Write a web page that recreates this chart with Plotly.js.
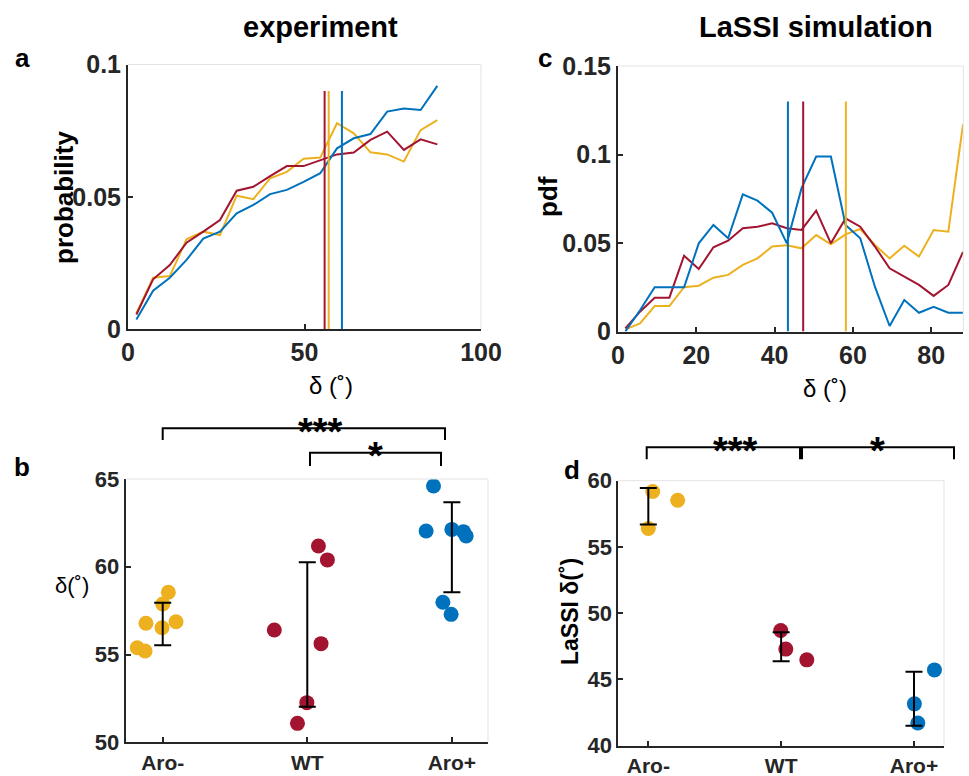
<!DOCTYPE html>
<html><head><meta charset="utf-8">
<script src="https://cdn.plot.ly/plotly-3.0.1.min.js"></script>
<style>html,body{margin:0;padding:0;background:#fff}#chart{width:969px;height:776px}</style>
</head><body><div id="chart"></div>
<script>
// ---------- DATA ----------
// panel a: experiment, probability vs delta (bin centres)
var binsA = [2.37,7.11,11.84,16.58,21.32,26.05,30.79,35.53,40.26,45.00,49.74,54.47,59.21,63.95,68.68,73.42,78.16,82.89,87.63];
var aroMinusA = [0.0059,0.0194,0.0200,0.0339,0.0368,0.0355,0.0504,0.0491,0.0570,0.0594,0.0644,0.0648,0.0778,0.0740,0.0668,0.0660,0.0633,0.0752,0.0790];
var wtA       = [0.0055,0.0188,0.0242,0.0326,0.0368,0.0412,0.0523,0.0538,0.0578,0.0616,0.0616,0.0639,0.0660,0.0667,0.0715,0.0746,0.0677,0.0717,0.0698];
var aroPlusA  = [0.0036,0.0145,0.0194,0.0261,0.0342,0.0368,0.0437,0.0469,0.0510,0.0526,0.0556,0.0589,0.0683,0.0721,0.0737,0.0822,0.0834,0.0828,0.0919];
var meanA = [56.85, 55.7, 60.6];          // Aro-, WT, Aro+
var meanLineTopA = 0.09;

// panel c: LaSSI simulation, pdf vs delta
var binsC = [1.875,5.625,9.375,13.125,16.875,20.625,24.375,28.125,31.875,35.625,39.375,43.125,46.875,50.625,54.375,58.125,61.875,65.625,69.375,73.125,76.875,80.625,84.375,88.125];
var aroMinusC = [0.0012,0.0046,0.0144,0.0144,0.0250,0.0259,0.0304,0.0320,0.0376,0.0413,0.0480,0.0487,0.0470,0.0545,0.0492,0.0549,0.0579,0.0489,0.0413,0.0485,0.0423,0.0573,0.0564,0.1170];
var wtC       = [0.0018,0.0112,0.0191,0.0191,0.0428,0.0353,0.0476,0.0513,0.0583,0.0592,0.0611,0.0583,0.0574,0.0683,0.0498,0.0639,0.0592,0.0480,0.0357,0.0310,0.0263,0.0201,0.0263,0.0450];
var aroPlusC  = [0.0000,0.0120,0.0250,0.0250,0.0250,0.0498,0.0602,0.0527,0.0775,0.0739,0.0671,0.0498,0.0810,0.0988,0.0988,0.0602,0.0527,0.0253,0.0031,0.0178,0.0106,0.0140,0.0106,0.0106];
var meanC = [58.2, 47.3, 43.4];           // Aro-, WT, Aro+
var meanLineTopC = 0.13;

// panel b: experiment, delta per sample
var groupLabels = ['Aro-','WT','Aro+'];
var bAroMinusX = [1.039,1.000,0.884,0.995,1.092,0.824,0.878];
var bAroMinusY = [58.55,57.88,56.78,56.53,56.87,55.39,55.20];
var bWtX = [2.077,2.139,1.772,2.095,1.997,1.932];
var bWtY = [61.18,60.39,56.40,55.62,52.26,51.08];
var bAroPlusX = [2.873,2.822,3.000,3.080,3.099,2.938,2.995];
var bAroPlusY = [64.60,62.04,62.13,62.00,61.75,57.98,57.29];
var bErrX = [1.0, 2.0, 3.0];
var bErrLow  = [55.53, 52.03, 58.55];
var bErrHigh = [57.95, 60.26, 63.68];

// panel d: LaSSI delta per run
var dAroMinusX = [1.033,1.221,1.000];
var dAroMinusY = [59.18,58.52,56.39];
var dWtX = [1.997,2.035,2.193];
var dWtY = [48.69,47.29,46.48];
var dAroPlusX = [3.154,3.003,3.029];
var dAroPlusY = [45.72,43.16,41.71];
var dErrX = [1.0, 2.0, 3.0];
var dErrLow  = [56.69, 46.38, 41.50];
var dErrHigh = [59.44, 48.57, 45.59];

// ---------- STYLE ----------
var C = {y:'#EDB120', r:'#A2142F', b:'#0072BD'};
var cols = [C.y, C.r, C.b];
var FONT = 'Liberation Sans, Arial, Helvetica, sans-serif';
var AX = '#262626';
var W = 969, H = 776;
function px(x){return x/W;}
function py(y){return 1 - y/H;}

var traces = [];
function line(x,y,c,xa,ya){traces.push({x:x,y:y,type:'scatter',mode:'lines',line:{color:c,width:2},xaxis:xa,yaxis:ya,hoverinfo:'skip'});}
// panel a
[aroMinusA, wtA, aroPlusA].forEach(function(s,i){line(binsA,s,cols[i],'x','y');});
meanA.forEach(function(m,i){line([m,m],[0,meanLineTopA],cols[i],'x','y');});
// panel c
[aroMinusC, wtC, aroPlusC].forEach(function(s,i){line(binsC,s,cols[i],'x2','y2');});
meanC.forEach(function(m,i){line([m,m],[0,meanLineTopC],cols[i],'x2','y2');});

function dots(x,y,c,xa,ya){traces.push({x:x,y:y,type:'scatter',mode:'markers',marker:{color:c,size:15,line:{width:0}},xaxis:xa,yaxis:ya,hoverinfo:'skip'});}
function errs(x,lo,hi,xa,ya){
  var mid = lo.map(function(v,i){return (v+hi[i])/2;});
  var half = lo.map(function(v,i){return (hi[i]-v)/2;});
  traces.push({x:x,y:mid,type:'scatter',mode:'markers',marker:{opacity:0,size:1},
    error_y:{type:'data',array:half,arrayminus:half,symmetric:false,color:'#000',thickness:2,width:8.5},
    xaxis:xa,yaxis:ya,hoverinfo:'skip'});
}
dots(bAroMinusX,bAroMinusY,C.y,'x3','y3');
dots(bWtX,bWtY,C.r,'x3','y3');
dots(bAroPlusX,bAroPlusY,C.b,'x3','y3');
errs(bErrX,bErrLow,bErrHigh,'x3','y3');
dots(dAroMinusX,dAroMinusY,C.y,'x4','y4');
dots(dWtX,dWtY,C.r,'x4','y4');
dots(dAroPlusX,dAroPlusY,C.b,'x4','y4');
errs(dErrX,dErrLow,dErrHigh,'x4','y4');

function axis(dom, range, tickvals, ticktext, anchor, size){
  var a = {domain:dom, range:range, tickvals:tickvals, ticktext:ticktext, anchor:anchor,
    showgrid:false, zeroline:false, showline:true, linecolor:AX, linewidth:2,
    ticks:'inside', ticklen:5, tickwidth:2, tickcolor:AX, mirror:false,
    tickfont:{family:FONT, size:size, color:AX, weight:'bold'}, fixedrange:true};
  return a;
}
var layout = {
  width:W, height:H, margin:{l:0,r:0,t:0,b:0}, showlegend:false,
  paper_bgcolor:'#fff', plot_bgcolor:'rgba(0,0,0,0)',
  xaxis: axis([px(128),px(481)],[0,100],[0,50,100],['0','50','100'],'y',25),
  yaxis: axis([py(329),py(64.5)],[0,0.1],[0,0.05,0.1],['0','0.05','0.1'],'x',25),
  xaxis2: axis([px(618),px(963.3)],[0,88.2],[0,20,40,60,80],['0','20','40','60','80'],'y2',25),
  yaxis2: axis([py(331.5),py(66)],[0,0.15],[0,0.05,0.1,0.15],['0','0.05','0.1','0.15'],'x2',25),
  xaxis3: axis([px(125.7),px(488)],[0.744,3.25],[1,2,3],groupLabels,'y3',21),
  yaxis3: axis([py(742.3),py(479)],[50,65],[50,55,60,65],['50','55','60','65'],'x3',22),
  xaxis4: axis([px(618.3),px(944)],[0.774,3.226],[1,2,3],groupLabels,'y4',21),
  yaxis4: axis([py(745.7),py(480.7)],[40,60],[40,45,50,55,60],['40','45','50','55','60'],'x4',22),
  shapes:[], annotations:[]
};
// light box edges (top/right)
[['x','y'],['x2','y2'],['x3','y3'],['x4','y4']].forEach(function(p){
  layout.shapes.push({type:'line',xref:p[0]+' domain',yref:p[1]+' domain',x0:0,x1:1,y0:1,y1:1,line:{color:'#e3e3e3',width:1}});
  layout.shapes.push({type:'line',xref:p[0]+' domain',yref:p[1]+' domain',x0:1,x1:1,y0:0,y1:1,line:{color:'#e3e3e3',width:1}});
});
// significance brackets (paper pixel positions)
function bracket(x0,x1,yTop,yLeg){
  layout.shapes.push({type:'path',xref:'paper',yref:'paper',
    path:'M '+px(x0)+' '+py(yLeg)+' L '+px(x0)+' '+py(yTop)+' L '+px(x1)+' '+py(yTop)+' L '+px(x1)+' '+py(yLeg),
    line:{color:'#000',width:2}});
}
bracket(162.7,445,428.3,440);
bracket(310,441,452.7,466);
bracket(646.7,800,447.3,459.3);
bracket(802,954,447.3,459.3);
function txt(t,x,y,size,bold,opts){
  var a = {text:t,xref:'paper',yref:'paper',x:px(x),y:py(y),showarrow:false,xanchor:'center',yanchor:'middle',
    font:{family:FONT,size:size,color:'#000',weight:bold?'bold':'normal'}};
  for (var k in (opts||{})) a[k]=opts[k];
  layout.annotations.push(a);
}
txt('***',320,432,38,true);
txt('*',375,456,38,true);
txt('***',735,451,38,true);
txt('*',877,451,38,true);
// titles & labels
txt('experiment',320,27,29,true);
txt('LaSSI simulation',816,27,29,true);
txt('a',22,58,26,true);
txt('c',545,58,26,true);
txt('b',22,467,26,true);
txt('d',572,470,26,true);
txt('probability',64,197,26,true,{textangle:-90});
txt('pdf',548,197,26,true,{textangle:-90});
txt('δ (˚)',331,385,24,false);
txt('δ (˚)',825,388,24,false);
txt('δ(˚)',72,585,22,false);
txt('LaSSI δ(˚)',570,612,23,true,{textangle:-90});

Plotly.newPlot('chart', traces, layout, {staticPlot:true, displayModeBar:false});
</script></body></html>
